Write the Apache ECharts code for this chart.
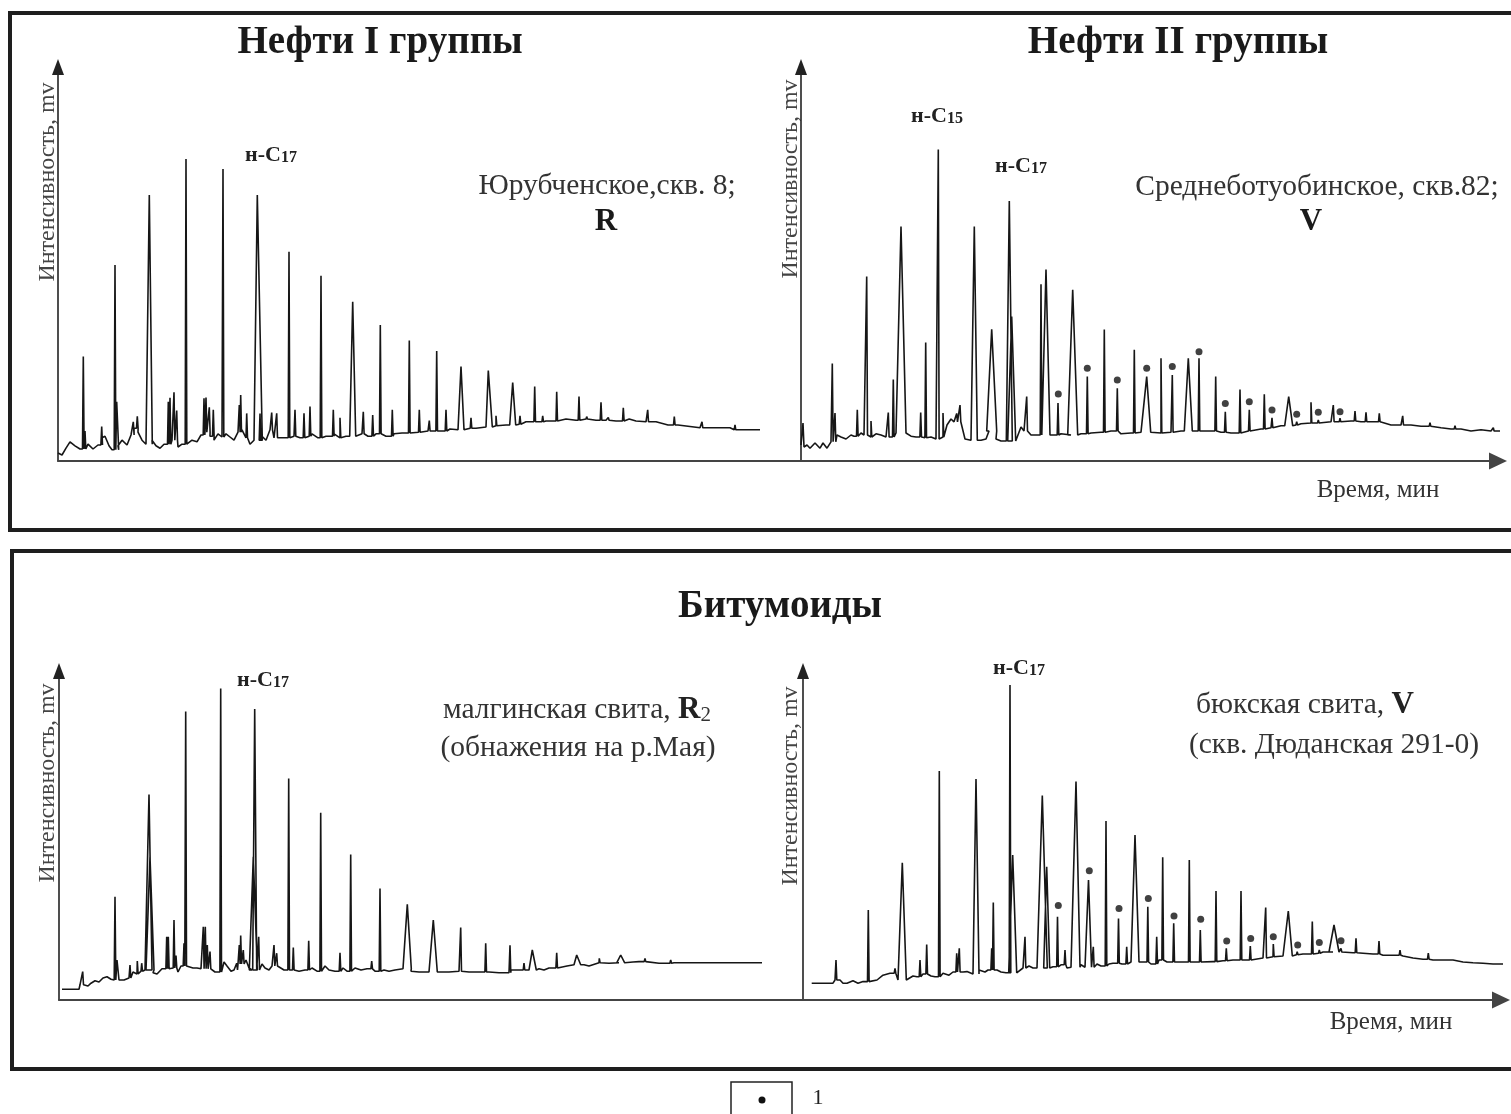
<!DOCTYPE html>
<html><head><meta charset="utf-8">
<script src="https://cdn.jsdelivr.net/npm/echarts@6/dist/echarts.min.js"></script>
<style>html,body{margin:0;padding:0;background:#fff}#c{width:1511px;height:1114px}</style>
</head><body><div id="c"></div>
<script>
// ---- Panel 1: Нефти I группы (Юрубченское, скв. 8; R) ----
const P1_BASE = [[0.0,2.0],[0.4,1.5],[0.8,3.2],[1.2,4.8],[1.7,3.8],[2.2,3.0],[3.0,4.2],[3.5,3.0],[4.0,4.0],[4.4,5.8],[4.7,6.2],[5.1,3.8],[5.4,2.8],[6.0,3.8],[6.4,5.2],[6.9,4.0],[7.3,6.5],[7.6,8.2],[8.0,7.2],[8.4,5.2],[8.8,4.2],[9.4,5.2],[9.8,3.8],[10.2,3.2],[10.6,4.2],[11.4,5.2],[12.0,3.5],[12.4,4.2],[13.0,4.2],[13.4,5.2],[13.9,4.8],[14.3,6.5],[14.7,7.2],[15.2,6.2],[15.6,5.2],[16.0,6.8],[16.4,6.0],[16.8,6.8],[17.2,6.0],[17.6,5.2],[18.0,7.2],[18.4,7.8],[18.8,5.8],[19.2,4.2],[19.6,5.2],[20.4,6.2],[20.8,5.2],[21.2,7.8],[21.6,5.8],[22.0,6.2],[22.6,5.8],[23.6,6.2],[24.2,5.8],[24.8,6.2],[25.4,6.8],[26.0,5.8],[26.8,6.2],[27.6,6.8],[28.2,5.8],[28.8,6.2],[29.8,6.2],[30.4,6.8],[31.0,6.2],[31.8,6.8],[32.8,6.2],[33.6,6.8],[34.4,7.0],[35.4,7.2],[36.2,7.0],[37.0,7.5],[38.2,7.5],[39.2,8.0],[40.0,7.8],[40.8,8.2],[41.8,8.2],[42.8,8.5],[43.8,8.8],[44.8,9.0],[45.8,9.2],[46.8,9.8],[47.8,9.8],[48.8,10.0],[49.8,10.0],[50.8,10.5],[51.8,10.2],[52.8,10.5],[53.8,10.2],[54.8,10.2],[55.8,10.0],[56.8,10.5],[57.8,10.0],[58.8,9.8],[59.8,9.8],[61.0,9.0],[62.0,9.0],[64.2,8.3],[67.2,8.3],[67.4,7.8],[70.2,7.8]];
// peaks: [time, top, half-width(optional)]
const P1_PEAKS = [[2.53,26.1],[2.7,7.5],[4.37,8.6],[5.7,49.0],[5.87,14.8,0.2],[7.53,9.8],[7.93,11.2],[9.13,66.5,0.3],[11.03,14.8],[11.2,15.8],[11.6,17.2],[11.87,12.6],[12.8,75.5],[14.6,15.7],[14.8,15.9],[15.13,13.4],[15.53,12.8],[16.5,73.0],[18.13,14.0],[18.27,16.5],[18.87,11.9],[19.93,66.5,0.5],[20.2,11.9],[21.37,12.1],[21.87,11.9],[23.1,52.3],[23.7,12.8],[24.6,11.9],[25.2,13.6],[26.3,46.3],[27.53,12.8],[28.2,10.8],[29.47,39.8,0.3],[30.53,12.3],[31.47,11.5],[32.23,34.0],[33.43,12.8],[35.13,30.1],[36.13,12.8],[37.13,10.1],[37.87,27.5],[38.8,12.8],[40.3,23.6,0.3],[41.3,10.8],[43.03,22.6,0.4],[43.8,11.3],[45.47,19.6,0.3],[46.2,11.3],[47.67,18.6],[48.47,11.3],[49.87,17.3],[52.1,16.1],[52.87,11.1],[54.3,14.7],[55.03,10.9],[56.53,13.3],[57.2,10.8],[58.97,12.8],[61.63,11.1],[64.4,9.8],[67.7,9.0],[68.7,8.2]];

// ---- Panel 2: Нефти II группы (Среднеботуобинское, скв.82; V) ----
const P2_BASE = [[0.0,4.0],[0.15,3.5],[0.6,4.0],[0.9,3.2],[1.4,4.5],[1.9,3.2],[2.2,4.5],[2.6,3.2],[3.0,4.8],[3.6,6.5],[4.0,6.0],[4.5,5.5],[5.0,6.5],[5.3,6.2],[6.0,7.0],[6.3,6.5],[7.0,6.0],[7.5,6.8],[8.0,6.5],[8.5,6.0],[9.5,7.0],[10.5,6.5],[11.0,6.2],[11.5,6.0],[12.0,5.8],[13.0,6.0],[13.5,5.5],[14.2,6.0],[14.6,9.0],[15.0,10.5],[15.3,9.8],[16.0,10.0],[16.4,5.5],[17.0,5.2],[18.0,5.2],[18.5,5.5],[18.8,7.5],[19.5,5.5],[20.0,5.0],[21.5,5.5],[22.0,8.5],[22.3,7.5],[23.0,6.5],[23.5,6.5],[25.0,6.5],[26.0,6.8],[27.0,6.5],[28.0,6.8],[29.0,7.0],[30.0,7.2],[31.0,7.5],[32.0,6.8],[33.0,7.0],[34.0,7.2],[35.0,6.8],[36.0,7.0],[37.0,7.2],[38.0,7.5],[39.0,7.5],[40.0,7.8],[41.0,7.5],[42.0,7.2],[43.0,7.0],[44.0,7.5],[45.0,7.8],[46.0,8.0],[47.0,8.3],[48.0,8.8],[49.0,9.0],[50.0,9.3],[51.0,9.5],[52.0,9.6],[53.0,9.8],[54.0,9.8],[55.0,10.0],[56.0,9.8],[57.0,9.8],[58.0,9.5],[59.0,9.0],[60.0,9.0],[61.0,9.0],[62.0,8.7],[63.0,8.5],[64.0,8.3],[65.0,8.0],[66.0,8.0],[67.0,7.5],[68.0,7.8],[69.0,7.5],[70.4,7.5]];
const P2_PEAKS = [[0.2,9.5,0.1],[3.13,24.4],[3.4,12.0],[5.63,12.8],[6.57,46.1],[7.0,10.0],[8.73,12.1],[9.23,20.4],[10.0,58.6,0.5],[11.97,12.1],[12.47,29.6],[13.73,77.9],[14.2,12.0],[15.57,11.9],[15.9,14.0],[17.33,58.6,0.3],[19.07,32.9,0.5],[20.83,65.0,0.3],[21.07,36.1,0.4],[22.57,16.1],[24.0,44.2],[24.5,47.9,0.4],[25.7,14.5],[27.17,42.8,0.5],[28.63,21.1],[30.33,32.9],[31.63,18.2],[33.33,27.8],[34.57,21.1,0.4],[36.0,25.7],[37.13,21.5],[38.73,25.7,0.4],[39.8,25.7],[41.47,21.1],[42.43,12.3],[43.9,17.9],[44.83,12.8],[46.33,16.7],[47.1,10.8],[48.77,16.1,0.4],[49.57,9.8],[51.0,14.7],[51.73,10.25],[53.23,14.0],[53.9,10.7],[55.4,12.5],[56.5,12.2],[57.83,11.9],[60.17,11.3],[62.9,9.6],[65.4,8.8],[69.23,8.3]];
const P2_DOTS = [[25.73,16.75],[28.63,23.2],[31.63,20.25],[34.57,23.2],[37.13,23.6],[39.8,27.3],[42.43,14.4],[44.83,14.8],[47.1,12.75],[49.57,11.7],[51.73,12.2],[53.9,12.3]];

// ---- Panel 3: Битумоиды — малгинская свита, R2 ----
const P3_BASE = [[0.3,2.7],[2.0,2.7],[2.1,3.8],[2.6,4.0],[2.9,3.5],[3.2,4.2],[3.6,4.8],[4.0,4.5],[4.4,5.5],[4.8,5.8],[5.2,5.2],[5.4,5.0],[6.0,5.0],[6.5,5.0],[7.0,5.5],[7.4,7.0],[7.8,6.5],[8.2,7.2],[8.6,7.5],[9.4,6.8],[9.8,6.5],[10.3,7.8],[11.0,8.0],[11.9,7.0],[12.2,8.5],[12.9,8.8],[13.4,8.0],[13.8,8.0],[14.2,7.8],[15.3,7.5],[15.6,7.0],[16.5,9.5],[16.8,8.5],[17.2,7.2],[17.5,7.5],[17.9,9.0],[18.7,10.0],[19.0,8.0],[19.3,7.5],[20.3,9.0],[20.6,8.0],[21.0,7.5],[21.3,8.5],[22.0,8.8],[22.5,7.5],[23.6,8.0],[24.0,7.2],[24.6,7.5],[25.3,8.0],[25.8,7.2],[26.6,8.5],[27.0,7.5],[27.6,7.2],[28.4,8.0],[28.8,7.2],[29.6,8.0],[30.2,7.5],[30.8,7.8],[31.6,7.2],[32.5,7.5],[33.0,7.2],[33.6,7.5],[34.4,7.8],[35.2,7.2],[36.0,7.0],[37.0,7.0],[38.0,7.0],[39.0,7.0],[40.0,7.2],[41.0,7.0],[42.0,7.0],[43.0,7.0],[44.0,6.8],[45.0,6.8],[45.2,7.5],[46.0,7.5],[47.0,7.5],[48.0,7.8],[48.5,7.5],[49.0,8.0],[50.0,8.2],[50.8,8.5],[51.5,8.8],[52.5,8.8],[53.0,8.5],[54.0,9.3],[55.0,9.2],[56.0,9.3],[57.4,9.5],[58.0,9.6],[60.0,9.2],[61.5,9.3],[62.0,9.3],[70.3,9.3]];
const P3_PEAKS = [[2.37,7.1],[5.6,25.8],[5.8,10.0,0.2],[7.1,8.75],[7.83,9.75],[8.27,9.2],[9.0,51.4,0.3],[9.1,35.8,0.4],[10.77,15.8],[10.93,15.8],[11.5,20.0],[11.7,11.1],[12.5,14.2],[12.67,72.1],[14.43,18.3],[14.63,18.3],[14.83,13.75],[15.1,12.1],[16.17,77.9],[17.77,9.2],[18.03,13.75],[18.17,16.1],[18.43,12.5],[19.43,35.8,0.4],[19.57,72.75,0.2],[19.97,15.8],[21.5,13.75],[21.77,11.7],[22.97,55.4],[23.43,13.1],[24.97,14.8],[26.17,46.8],[28.1,11.8],[29.17,36.4],[31.27,9.75],[32.1,27.9],[34.83,23.9,0.4],[37.43,20.0,0.4],[40.17,18.1],[42.67,14.2],[45.1,13.7],[46.5,9.2],[47.33,12.5,0.4],[49.77,11.8],[51.77,11.25,0.4],[54.03,10.4],[56.17,11.25,0.4],[58.6,10.4],[61.17,10.0]];

// ---- Panel 4: Битумоиды — бюкская свита, V ----
const P4_BASE = [[0.87,4.2],[3.0,4.2],[3.2,5.0],[3.7,5.0],[4.0,4.2],[4.4,4.2],[5.0,4.8],[5.5,4.2],[6.0,4.6],[6.8,5.0],[7.4,5.0],[8.0,6.2],[8.7,6.7],[9.5,5.0],[10.4,5.0],[11.0,6.0],[11.4,5.8],[12.0,6.5],[12.8,6.0],[13.2,5.8],[14.0,6.7],[14.6,6.2],[15.0,7.0],[16.0,7.0],[16.4,7.1],[17.0,6.5],[17.6,7.5],[18.2,7.0],[18.5,7.5],[19.4,7.5],[19.8,7.0],[20.3,6.8],[21.4,7.2],[22.0,8.0],[22.6,8.5],[23.0,8.0],[23.4,8.0],[24.8,8.5],[25.0,8.3],[25.8,8.8],[26.4,8.0],[26.8,8.2],[27.8,8.8],[28.2,8.2],[29.4,9.0],[29.8,8.5],[30.6,9.0],[31.0,9.2],[31.9,9.0],[32.8,9.5],[33.6,9.0],[34.0,9.5],[34.8,9.0],[35.6,10.0],[36.4,9.5],[37.4,9.5],[38.2,9.5],[39.0,9.5],[40.0,9.6],[41.0,9.6],[42.0,9.8],[43.0,10.0],[44.0,10.0],[45.0,10.3],[46.0,10.5],[47.0,10.8],[48.0,11.0],[49.0,11.3],[50.0,11.5],[51.0,11.7],[52.0,12.0],[53.0,12.0],[54.0,11.8],[55.0,11.8],[56.0,11.7],[57.0,11.5],[58.0,11.2],[59.0,11.2],[60.0,11.0],[61.0,10.5],[62.0,10.2],[63.0,10.0],[64.0,10.0],[65.0,10.0],[66.0,9.5],[67.0,9.3],[68.0,9.2],[69.0,9.0],[70.7,9.0]];
const P4_PEAKS = [[3.3,10.0],[6.53,22.5],[9.2,7.9],[9.93,34.3,0.4],[11.7,10.0],[12.37,13.9],[13.63,57.25],[15.37,11.7],[15.63,12.9],[17.3,55.25,0.3],[18.87,12.9],[19.03,24.4],[20.7,78.75],[20.97,36.25,0.4],[22.2,15.8],[23.93,51.1,0.5],[24.37,33.3,0.3],[25.45,20.8],[26.2,12.5],[27.3,54.6,0.4],[28.55,30.0,0.3],[29.03,13.3],[30.3,44.75],[31.55,20.4],[32.37,13.3],[33.2,41.25,0.4],[34.48,23.3],[35.37,15.8],[35.97,35.7],[37.07,19.2],[38.63,35.0],[39.73,17.5],[41.3,27.25],[42.33,12.9],[43.8,27.25],[44.73,13.5],[46.27,23.1],[47.03,14.0],[48.53,22.25,0.4],[49.42,12.1],[50.93,19.6],[51.63,12.5],[53.1,18.75,0.5],[53.8,12.9],[55.3,15.4],[57.6,14.75],[59.7,12.5],[62.53,11.7],[68.1,9.6]];
const P4_DOTS = [[25.53,23.6],[28.63,32.3],[31.6,22.9],[34.53,25.4],[37.1,21.0],[39.77,20.2],[42.37,14.75],[44.77,15.4],[47.03,15.8],[49.47,13.75],[51.63,14.4],[53.8,14.8]];

const PEAK_W = 0.08;
function trace(base, peaks) {
  const items = base.map(p => ({x: p[0], k: 0, p}))
    .concat(peaks.map(p => ({x: p[0], k: 1, p})))
    .sort((a, b) => a.x - b.x || a.k - b.k);
  const out = [];
  let last = base[0][1];
  for (const it of items) {
    if (it.k === 0) { out.push([it.p[0], it.p[1]]); last = it.p[1]; }
    else {
      const w = it.p[2] || PEAK_W;
      out.push([it.p[0] - w, last], [it.p[0], it.p[1]], [it.p[0] + w, last]);
    }
  }
  return out;
}

const SERIF = '"Liberation Serif", "Times New Roman", serif';
const grids = [
  {left: 58, top: 67, width: 743, height: 394},
  {left: 801, top: 67, width: 697, height: 394},
  {left: 59, top: 671, width: 744, height: 329},
  {left: 803, top: 671, width: 698, height: 329}
];
const xMax = [74.3, 69.7, 74.4, 69.8];
const yMax = [98.5, 98.5, 82.25, 82.25];
const xArrow = [false, true, false, true];

const chart = echarts.init(document.getElementById('c'), null, {renderer: 'canvas'});
const axisHidden = {axisTick: {show: false}, axisLabel: {show: false}, splitLine: {show: false}};
const TXT = '#333';
function nlabel(x, y, num) {
  return {type: 'text', x: x, y: y, style: {text: '{a|н-C}{b|' + num + '}', textVerticalAlign: 'middle',
    rich: {a: {font: 'bold 22px ' + SERIF, fill: '#222', verticalAlign: 'bottom'},
           b: {font: 'bold 16px ' + SERIF, fill: '#222', verticalAlign: 'bottom'}}}};
}
function ylabel(x, y) {
  return {type: 'text', x: x, y: y, rotation: Math.PI / 2,
    style: {text: 'Интенсивность, mv', font: '24px ' + SERIF, fill: '#444', textAlign: 'center', textVerticalAlign: 'middle'}};
}
function plain(x, y, text, size) {
  return {type: 'text', x: x, y: y, style: {text: text, font: size + 'px ' + SERIF, fill: TXT, textAlign: 'center', textVerticalAlign: 'middle'}};
}
function boldT(x, y, text, size) {
  return {type: 'text', x: x, y: y, style: {text: text, font: 'bold ' + size + 'px ' + SERIF, fill: '#1a1a1a', textAlign: 'center', textVerticalAlign: 'middle'}};
}
const option = {
  animation: false,
  backgroundColor: '#ffffff',
  grid: grids.map(g => Object.assign({containLabel: false}, g)),
  xAxis: grids.map((g, i) => Object.assign({
    type: 'value', gridIndex: i, min: 0, max: xMax[i],
    axisLine: {show: true, onZero: false, lineStyle: {color: '#444', width: 2.2},
      symbol: xArrow[i] ? ['none', 'triangle'] : ['none', 'none'], symbolSize: [17, 18]}
  }, axisHidden)),
  yAxis: grids.map((g, i) => Object.assign({
    type: 'value', gridIndex: i, min: 0, max: yMax[i],
    axisLine: {show: true, lineStyle: {color: '#222', width: 1.6},
      symbol: ['none', 'triangle'], symbolSize: [12, 16]}
  }, axisHidden)),
  series: [
    [P1_BASE, P1_PEAKS], [P2_BASE, P2_PEAKS], [P3_BASE, P3_PEAKS], [P4_BASE, P4_PEAKS]
  ].map((d, i) => ({
    type: 'line', xAxisIndex: i, yAxisIndex: i, data: trace(d[0], d[1]),
    showSymbol: false, clip: false, lineStyle: {color: '#161616', width: 1.6}
  })).concat([
    {type: 'scatter', xAxisIndex: 1, yAxisIndex: 1, data: P2_DOTS, symbol: 'circle', symbolSize: 7, itemStyle: {color: '#111'}},
    {type: 'scatter', xAxisIndex: 3, yAxisIndex: 3, data: P4_DOTS, symbol: 'circle', symbolSize: 7, itemStyle: {color: '#111'}}
  ]),
  graphic: [
    {type: 'rect', shape: {x: 10, y: 13, width: 1530, height: 517}, style: {fill: 'none', stroke: '#1e1e1e', lineWidth: 4}},
    {type: 'rect', shape: {x: 12, y: 551, width: 1530, height: 518}, style: {fill: 'none', stroke: '#1e1e1e', lineWidth: 4}},
    boldT(380, 43, 'Нефти I группы', 39),
    boldT(1178, 43, 'Нефти II группы', 39),
    boldT(780, 607, 'Битумоиды', 39),
    ylabel(48, 182), ylabel(791, 179), ylabel(48, 783), ylabel(791, 786),
    nlabel(245, 155, '17'), nlabel(911, 116, '15'), nlabel(995, 166, '17'),
    nlabel(237, 680, '17'), nlabel(993, 668, '17'),
    plain(607, 186, 'Юрубченское,скв. 8;', 29.5),
    boldT(606, 222, 'R', 31),
    plain(1317, 187, 'Среднеботуобинское, скв.82;', 29.5),
    boldT(1311, 222, 'V', 31),
    plain(1378, 490, 'Время, мин', 25),
    plain(1391, 1022, 'Время, мин', 25),
    {type: 'text', x: 577, y: 710, style: {text: '{a|малгинская свита, }{b|R}{c|2}', textAlign: 'center', textVerticalAlign: 'middle',
      rich: {a: {font: '29.5px ' + SERIF, fill: TXT, verticalAlign: 'bottom'}, b: {font: 'bold 31px ' + SERIF, fill: '#222', verticalAlign: 'bottom'}, c: {font: '21px ' + SERIF, fill: TXT, verticalAlign: 'bottom'}}}},
    plain(578, 748, '(обнажения на р.Мая)', 29.5),
    {type: 'text', x: 1305, y: 705, style: {text: '{a|бюкская свита, }{b|V}', textAlign: 'center', textVerticalAlign: 'middle',
      rich: {a: {font: '29.5px ' + SERIF, fill: TXT, verticalAlign: 'bottom'}, b: {font: 'bold 31px ' + SERIF, fill: '#222', verticalAlign: 'bottom'}}}},
    plain(1334, 745, '(скв. Дюданская 291-0)', 29.5),
    {type: 'rect', shape: {x: 731, y: 1082, width: 61, height: 40}, style: {fill: 'none', stroke: '#222', lineWidth: 1.5}},
    {type: 'circle', shape: {cx: 762, cy: 1100, r: 3.5}, style: {fill: '#111'}},
    {type: 'text', x: 818, y: 1098, style: {text: '1', font: '22px ' + SERIF, fill: '#222', textAlign: 'center', textVerticalAlign: 'middle'}}
  ]
};
chart.setOption(option);
</script>
</body></html>
